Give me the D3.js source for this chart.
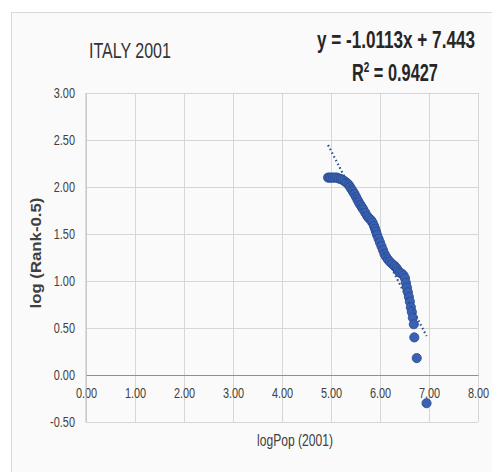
<!DOCTYPE html>
<html>
<head>
<meta charset="utf-8">
<script src="https://cdn.jsdelivr.net/npm/d3@7"></script>
<style>
  html, body { margin: 0; padding: 0; background: #ffffff; }
  svg { display: block; }
  text { font-family: "Liberation Sans", Arial, sans-serif; }
</style>
</head>
<body>
<svg id="chart" width="492" height="472"></svg>
<script>
// ---- data ----
const chartTitle = "ITALY 2001";
const xAxisTitle = "logPop (2001)";
const yAxisTitle = "log (Rank-0.5)";
const xTicks = [0, 1, 2, 3, 4, 5, 6, 7, 8];
const yTicks = [-0.5, 0, 0.5, 1, 1.5, 2, 2.5, 3];

// logPop values (x) and log(Rank-0.5) values (y)
const logPop = [
  4.94, 4.97, 5.00, 5.04, 5.08, 5.12, 5.16, 5.20, 5.24, 5.28,
  5.32, 5.36, 5.39, 5.42, 5.45, 5.48, 5.51, 5.54, 5.57, 5.60,
  5.63, 5.66, 5.70, 5.74, 5.78, 5.82, 5.85, 5.88, 5.90, 5.92,
  5.94, 5.97, 6.00, 6.03, 6.06, 6.09, 6.12, 6.16, 6.20, 6.25,
  6.30, 6.34, 6.37, 6.40, 6.44, 6.48, 6.51, 6.53, 6.55, 6.57,
  6.59, 6.61, 6.63, 6.65, 6.67, 6.69, 6.70, 6.75, 6.95
];
const logRank = [
  2.10, 2.10, 2.10, 2.10, 2.10, 2.10, 2.09, 2.085, 2.075, 2.06,
  2.045, 2.025, 2.00, 1.975, 1.95, 1.925, 1.895, 1.865, 1.835, 1.81,
  1.785, 1.76, 1.725, 1.69, 1.665, 1.645, 1.62, 1.585, 1.555, 1.525,
  1.49, 1.45, 1.41, 1.37, 1.33, 1.29, 1.26, 1.23, 1.205, 1.18,
  1.16, 1.135, 1.11, 1.09, 1.08, 1.06, 1.03, 0.98, 0.93, 0.88,
  0.83, 0.78, 0.72, 0.67, 0.61, 0.54, 0.40, 0.18, -0.30
];

// linear trendline shown in the reference
const trendSlope = -1.0113;
const trendIntercept = 7.443;
const equationText = "y = -1.0113x + 7.443";
const r2Label = "0.9427";

// ---- drawing ----
const svg = d3.select("#chart");
const SX = 0.78; // horizontal condensing of the installed font

// chart frame
svg.append("rect")
  .attr("x", 11.5).attr("y", 12.5)
  .attr("width", 520).attr("height", 520)
  .attr("fill", "#fafafa")
  .attr("stroke", "#d9d9d9")
  .attr("stroke-width", 1);

const x = d3.scaleLinear().domain([0, 8]).range([86, 478]);
const y = d3.scaleLinear().domain([-0.5, 3]).range([422, 93]);
const fmt = v => d3.format(".2f")(v).replace("\u2212", "-");

// horizontal gridlines + y tick labels
const gY = svg.append("g")
  .attr("transform", `translate(${x(0)},0)`)
  .call(d3.axisLeft(y).tickValues(yTicks).tickFormat(fmt)
        .tickSize(-(x(8) - x(0))).tickPadding(11));
gY.select(".domain").remove();
gY.selectAll(".tick line").attr("stroke", "#d6d6d6").attr("stroke-width", 1);
gY.selectAll(".tick text")
  .attr("fill", "#404040")
  .style("font-size", "14px")
  .attr("x", -11 / SX)
  .attr("transform", `scale(${SX},1)`);

// vertical gridlines
const gXGrid = svg.append("g")
  .attr("transform", `translate(0,${y(-0.5)})`)
  .call(d3.axisBottom(x).tickValues(xTicks).tickFormat("")
        .tickSize(-(y(-0.5) - y(3))));
gXGrid.select(".domain").remove();
gXGrid.selectAll(".tick line").attr("stroke", "#d6d6d6").attr("stroke-width", 1);

// x axis at y = 0 with labels
const gX = svg.append("g")
  .attr("transform", `translate(0,${y(0)})`)
  .call(d3.axisBottom(x).tickValues(xTicks).tickFormat(fmt)
        .tickSize(0).tickPadding(13));
gX.select(".domain").attr("stroke", "#8f8f8f").attr("stroke-width", 1.2);
gX.selectAll(".tick text")
  .attr("fill", "#404040")
  .style("font-size", "14px")
  .attr("transform", `scale(${SX},1)`);

// vertical axis line at x = 0
svg.append("line")
  .attr("x1", x(0)).attr("x2", x(0))
  .attr("y1", y(3)).attr("y2", y(-0.5))
  .attr("stroke", "#bdbdbd").attr("stroke-width", 1);

// data points
const pts = logPop.map((v, i) => ({ xv: v, yv: logRank[i] }));
svg.append("g").selectAll("circle")
  .data(pts)
  .join("circle")
  .attr("cx", d => x(d.xv))
  .attr("cy", d => y(d.yv))
  .attr("r", 4.6)
  .attr("fill", "#3a62b3")
  .attr("stroke", "#28498f")
  .attr("stroke-width", 0.8);

// trendline (dotted) over data x-range
const xMin = d3.min(logPop), xMax = d3.max(logPop);
svg.append("line")
  .attr("x1", x(xMin)).attr("y1", y(trendSlope * xMin + trendIntercept))
  .attr("x2", x(xMax)).attr("y2", y(trendSlope * xMax + trendIntercept))
  .attr("stroke", "#2b4f94")
  .attr("stroke-width", 2.2)
  .attr("stroke-dasharray", "1.6,2.6");

// place a text so that it starts at (left, baseline) and is exactly `width` wide
function placeFit(textSel, left, baseline, width) {
  const w = textSel.node().getBBox().width;
  textSel.attr("x", 0).attr("y", 0)
    .attr("transform", `translate(${left},${baseline}) scale(${width / w},1)`);
}

// titles
const title = svg.append("text")
  .attr("fill", "#333333")
  .style("font-size", "22px")
  .text(chartTitle);
placeFit(title, 89, 58, 82);

const eq = svg.append("text")
  .attr("fill", "#262626")
  .style("font-size", "23px")
  .style("font-weight", "bold")
  .text(equationText);
placeFit(eq, 317, 48, 158);

const r2 = svg.append("text")
  .attr("fill", "#262626")
  .style("font-size", "23px")
  .style("font-weight", "bold");
r2.append("tspan").text("R");
r2.append("tspan").attr("dy", -9).style("font-size", "14px").text("2");
r2.append("tspan").attr("dy", 9).text(" = " + r2Label);
placeFit(r2, 352, 81, 86);

const xt = svg.append("text")
  .attr("fill", "#404040")
  .style("font-size", "16px")
  .text(xAxisTitle);
placeFit(xt, 257, 446, 76);

const yt = svg.append("text")
  .attr("fill", "#404040")
  .style("font-size", "14px")
  .style("font-weight", "bold")
  .text(yAxisTitle);
{
  const w = yt.node().getBBox().width;
  yt.attr("x", 0).attr("y", 0)
    .attr("transform", `translate(41,${253 + 111 / 2}) rotate(-90) scale(${111 / w},1)`);
}
</script>
</body>
</html>
